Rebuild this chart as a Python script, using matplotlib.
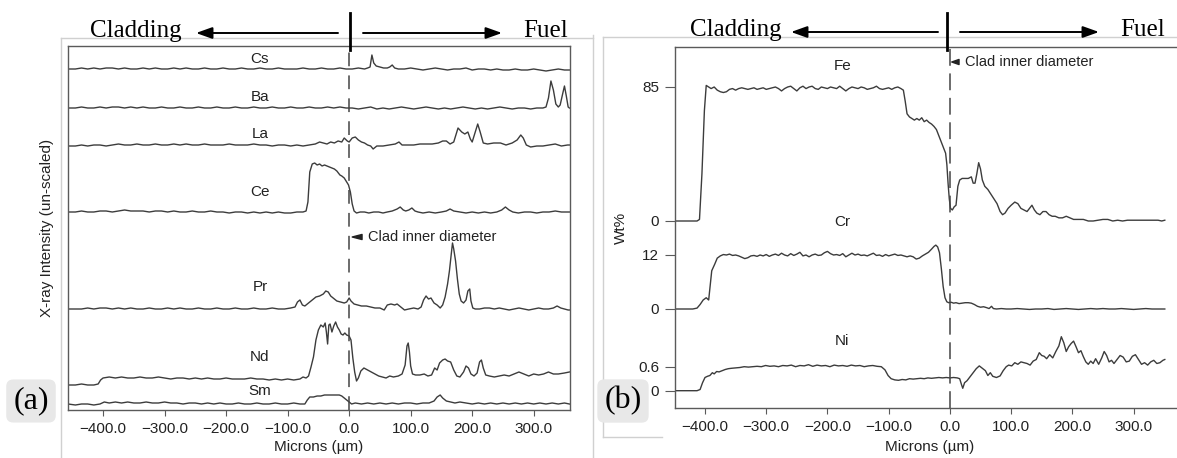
import numpy as np
import matplotlib
matplotlib.use("Agg")
from matplotlib import pyplot as plt
from matplotlib.lines import Line2D

plt.rcParams['font.family'] = ['Liberation Sans', 'DejaVu Sans']

# ---- panel (a): X-ray intensity traces (height above own baseline, arbitrary units) ----
cs = [(-457,0),(-445,0),(-435,1),(-425,0),(-415,1),(-405,0),(-395,1),(-385,1),(-375,0),(-365,1),(-355,0),(-345,0),
      (-335,1),(-325,0),(-315,1),(-305,0),(-295,0),(-285,1),(-275,0),(-265,1),(-255,0),(-245,0),(-235,1),(-225,0),
      (-215,0),(-205,1),(-195,0),(-185,0),(-175,1),(-165,0),(-155,0),(-145,1),(-135,0),(-125,0),(-115,1),(-105,0),
      (-95,0),(-85,0),(-75,1),(-65,0),(-55,0),(-45,1),(-35,0),(-25,0),(-15,1),(-5,0),(5,0),(15,1),(25,0),(30,1),
      (34,2),(37,14),(40,6),(44,3),(50,2),(56,1),(62,1),(66,2),(70,4),(74,1),(80,0),(90,0),(100,1),(110,0),(120,-1),
      (130,0),(140,1),(150,0),(160,-1),(170,0),(180,0),(190,1),(200,-1),(210,0),(220,0),(230,-1),(240,0),(250,-1),
      (260,-1),(270,0),(280,-1),(290,-1),(300,0),(310,-1),(320,-2),(330,-1),(340,0),(350,-1),(358,-1)]
ba = [(-457,0),(-445,0),(-435,1),(-425,0),(-415,0),(-405,1),(-395,0),(-385,1),(-375,1),(-365,0),(-355,1),(-345,0),
      (-335,1),(-325,0),(-315,0),(-305,1),(-295,0),(-285,0),(-275,1),(-265,0),(-255,0),(-245,1),(-235,0),(-225,0),
      (-215,1),(-205,0),(-195,0),(-185,1),(-175,0),(-165,0),(-155,1),(-145,0),(-135,0),(-125,1),(-115,0),(-105,0),
      (-95,1),(-85,0),(-75,0),(-65,1),(-55,0),(-45,0),(-35,1),(-25,0),(-15,1),(-5,0),(5,0),(15,-1),(25,0),(35,1),
      (45,-1),(55,0),(65,-1),(75,0),(85,1),(95,0),(105,-1),(115,0),(125,1),(135,0),(145,-1),(155,0),(165,-1),(175,0),
      (185,1),(195,0),(205,-1),(215,0),(225,-1),(235,0),(245,1),(255,0),(265,-1),(275,0),(285,0),(295,-1),(305,0),
      (315,0),(320,1),(324,10),(328,27),(332,18),(336,4),(340,1),(343,3),(347,14),(350,22),(353,12),(356,1),(358,0)]
la = [(-457,0),(-445,0),(-435,1),(-425,0),(-415,1),(-405,1),(-395,0),(-385,1),(-375,2),(-365,1),(-355,1),(-345,2),
      (-335,1),(-325,1),(-315,2),(-305,1),(-295,1),(-285,2),(-275,1),(-265,2),(-255,1),(-245,1),(-235,2),(-225,1),
      (-215,1),(-205,1),(-195,2),(-185,1),(-175,1),(-165,1),(-155,2),(-145,1),(-135,1),(-125,0),(-115,1),(-105,1),
      (-95,0),(-85,1),(-75,0),(-65,1),(-55,2),(-48,4),(-42,3),(-36,2),(-30,4),(-24,3),(-18,5),(-12,4),(-8,8),(-3,5),
      (0,4),(5,8),(10,9),(15,6),(20,4),(25,3),(30,1),(35,0),(39,-3),(45,0),(55,0),(65,1),(75,2),(81,4),(86,1),(95,1),
      (105,1),(115,2),(125,2),(135,2),(145,3),(152,5),(158,5),(164,2),(170,4),(177,18),(183,14),(188,12),(193,14),
      (197,7),(200,4),(204,12),(209,22),(213,14),(218,3),(225,2),(235,3),(246,3),(255,1),(265,3),(273,6),(279,11),
      (283,8),(288,1),(295,-1),(305,0),(315,0),(325,1),(335,2),(345,0),(355,1),(358,1)]
ce = [(-457,0),(-445,0),(-435,1),(-425,0),(-415,0),(-405,1),(-395,1),(-385,0),(-375,1),(-365,2),(-355,1),(-345,1),
      (-335,1),(-325,0),(-315,1),(-305,1),(-295,0),(-285,1),(-275,0),(-265,0),(-255,1),(-245,0),(-235,0),(-225,1),
      (-215,0),(-205,0),(-195,-1),(-185,0),(-175,0),(-165,-1),(-155,0),(-145,-1),(-135,0),(-125,-1),(-115,0),
      (-105,-1),(-95,-1),(-85,0),(-75,0),(-70,1),(-67,10),(-64,40),(-60,48),(-56,49),(-52,47),(-48,48),(-44,46),
      (-40,47),(-36,46),(-32,45),(-28,44),(-24,43),(-20,41),(-15,37),(-12,36),(-8,34),(-4,30),(-1,27),(2,20),(5,8),
      (8,1),(12,-1),(18,0),(25,0),(32,-1),(40,0),(48,0),(55,-1),(62,0),(70,1),(78,3),(83,5),(88,2),(92,1),(97,2),
      (102,4),(107,1),(112,0),(120,-1),(130,0),(140,-1),(150,0),(158,1),(164,3),(170,1),(180,0),(190,-1),(200,0),
      (210,-1),(220,0),(230,-1),(240,0),(248,2),(254,5),(260,2),(266,0),(275,-1),(285,0),(295,0),(305,-1),(315,0),
      (325,0),(335,1),(345,0),(358,0)]
pr = [(-457,0),(-445,0),(-435,0),(-425,1),(-415,0),(-405,1),(-395,1),(-385,0),(-375,1),(-365,0),(-355,1),(-345,0),
      (-335,0),(-325,1),(-315,0),(-305,0),(-295,1),(-285,0),(-275,1),(-265,0),(-255,0),(-245,1),(-235,0),(-225,0),
      (-215,1),(-205,0),(-195,0),(-185,1),(-175,0),(-165,0),(-155,1),(-145,0),(-135,0),(-125,1),(-115,0),(-105,0),
      (-95,1),(-88,2),(-84,7),(-80,9),(-76,4),(-72,3),(-66,6),(-60,9),(-54,12),(-48,13),(-42,15),(-38,18),(-34,17),
      (-30,13),(-26,11),(-20,8),(-14,7),(-8,6),(-4,7),(0,11),(3,8),(8,5),(14,4),(20,3),(28,3),(35,2),(42,1),(50,1),
      (57,-1),(62,4),(68,5),(74,4),(78,5),(84,2),(90,-1),(97,0),(105,1),(112,0),(117,2),(121,9),(125,13),(129,10),
      (133,11),(138,6),(143,4),(148,1),(152,4),(156,12),(160,25),(163,38),(166,55),(168,66),(170,60),(173,48),
      (176,30),(179,15),(182,8),(186,6),(190,9),(193,18),(196,20),(198,8),(201,1),(205,0),(212,0),(220,1),(228,1),
      (236,0),(244,1),(252,0),(260,-1),(268,0),(276,1),(284,0),(292,-1),(300,0),(308,1),(316,0),(324,0),(332,1),
      (338,3),(344,1),(350,0),(356,-1),(358,-1)]
nd = [(-457,-5),(-445,-5),(-435,-4),(-425,-5),(-415,-5),(-408,-4),(-404,0),(-400,2),(-390,3),(-380,2),(-370,3),
      (-360,2),(-350,2),(-340,3),(-330,2),(-320,2),(-310,3),(-300,2),(-290,1),(-280,2),(-270,2),(-260,1),(-250,2),
      (-240,1),(-230,2),(-220,1),(-210,1),(-200,2),(-190,1),(-180,1),(-170,1),(-160,2),(-150,1),(-140,1),(-130,0),
      (-120,1),(-110,0),(-100,1),(-90,0),(-80,1),(-75,3),(-70,2),(-66,4),(-62,13),(-58,23),(-54,40),(-50,50),
      (-46,55),(-42,53),(-39,57),(-37,48),(-35,36),(-33,55),(-31,56),(-28,48),(-25,54),(-22,58),(-19,53),(-16,50),
      (-13,46),(-10,45),(-7,47),(-4,45),(0,44),(3,40),(6,22),(9,8),(12,-1),(15,2),(19,9),(24,12),(30,10),(36,8),
      (42,6),(48,4),(54,3),(60,2),(66,4),(72,3),(80,4),(86,6),(91,15),(94,34),(96,37),(98,28),(100,14),(103,6),
      (108,5),(115,5),(122,6),(128,4),(134,5),(139,12),(143,10),(147,17),(152,20),(156,21),(160,19),(165,18),
      (170,10),(175,4),(180,3),(186,8),(190,14),(194,12),(198,6),(203,4),(208,7),(212,18),(215,20),(218,12),
      (222,5),(228,4),(236,3),(244,4),(252,5),(260,4),(268,6),(276,8),(284,6),(292,4),(300,6),(308,5),(316,6),
      (324,8),(332,6),(340,6),(350,7),(358,8)]
sm = [(-457,0),(-445,-1),(-435,0),(-425,0),(-415,-1),(-405,0),(-398,2),(-390,1),(-380,2),(-370,1),(-360,2),
      (-350,1),(-340,1),(-330,2),(-320,1),(-310,1),(-300,2),(-290,1),(-280,1),(-270,0),(-260,1),(-250,1),(-240,0),
      (-230,1),(-220,0),(-210,1),(-200,0),(-190,0),(-180,1),(-170,0),(-160,0),(-150,1),(-140,0),(-130,0),(-120,1),
      (-110,0),(-100,0),(-90,1),(-80,0),(-72,0),(-68,4),(-64,7),(-58,7),(-52,8),(-46,8),(-40,9),(-34,9),(-28,9),
      (-22,9),(-16,9),(-12,8),(-8,6),(-4,4),(0,2),(4,0),(10,1),(20,0),(30,1),(40,0),(50,1),(60,0),(70,1),(80,0),
      (90,1),(100,1),(110,0),(120,1),(130,1),(138,3),(143,7),(148,9),(152,6),(158,3),(165,2),(172,1),(180,2),
      (190,1),(200,0),(210,1),(220,0),(230,1),(240,0),(250,1),(260,0),(270,1),(280,0),(290,1),(300,0),(310,1),
      (320,0),(330,1),(340,0),(350,1),(358,0)]
a_names = ['Cs', 'Ba', 'La', 'Ce', 'Pr', 'Nd', 'Sm']
a_traces = [cs, ba, la, ce, pr, nd, sm]

# ---- panel (b): wt% traces ----
fe = [(-449,0),(-440,0),(-430,0),(-420,0),(-413,0),(-409,1),(-405,30),(-401,70),(-398,86),(-394,85),(-390,84),
      (-385,85),(-380,83),(-375,82),(-370,81.5),(-365,82),(-360,83.5),(-355,84),(-350,83),(-345,84),(-340,84.5),
      (-335,84),(-330,83.5),(-325,84),(-320,84.5),(-315,83.5),(-310,84),(-305,84.5),(-300,83.5),(-295,84),
      (-290,84.5),(-285,85),(-280,84),(-275,82.5),(-270,84),(-265,85),(-260,85.5),(-255,84),(-250,82.5),(-245,84.5),
      (-240,85.5),(-235,84),(-230,85),(-225,85.5),(-220,84),(-215,83.5),(-210,85),(-205,84.5),(-200,84),(-195,85),
      (-190,84.5),(-185,84),(-180,85.5),(-175,84),(-170,82.5),(-165,84),(-160,85),(-155,84.5),(-150,84),(-145,85),
      (-140,84.5),(-135,83.5),(-130,84),(-125,84.5),(-120,85.5),(-115,84),(-110,83.5),(-105,84),(-100,84.5),
      (-95,83.5),(-90,84.5),(-85,85),(-80,84),(-76,83),(-73,76),(-70,68),(-66,66),(-62,65),(-58,64),(-54,65),
      (-50,64),(-46,65.5),(-42,63),(-38,64),(-34,62.5),(-30,61.5),(-26,60),(-22,58),(-18,54),(-14,50),(-10,46),
      (-7,43),(-5,36),(-3,24),(-1,14),(1,8),(4,7),(7,9),(10,10),(13,22),(16,26),(20,27),(25,27),(30,27),(35,28),
      (38,24),(41,24),(44,30),(47,37),(50,33),(53,26),(57,22),(62,20),(67,17),(72,14),(77,11),(82,6),(86,4),(90,5),
      (95,8),(100,10),(106,12),(111,11),(116,8),(121,7),(126,6),(130,8),(134,10),(138,7),(142,5),(147,4),(152,6),
      (157,6),(162,4),(167,3),(172,3),(178,2),(184,2),(190,3),(196,2),(202,1),(210,1),(218,1),(226,0),(234,0),
      (242,0.5),(250,1),(258,1),(266,0),(274,0.5),(282,0),(290,0.5),(298,0.5),(306,0.5),(314,0.5),(322,0.5),
      (330,0.5),(340,0.5),(346,0),(351,0.5)]
cr = [(-449,0),(-440,0),(-430,0),(-420,0),(-413,0.2),(-408,1),(-403,2),(-398,2.5),(-394,2),(-391,6),(-389,8.5),
      (-384,10),(-380,11.3),(-375,11.8),(-370,12.1),(-365,12),(-360,12.2),(-355,11.9),(-350,12),(-345,11.8),
      (-340,11.5),(-335,11.2),(-330,11.4),(-325,11.8),(-320,11.9),(-315,11.7),(-310,12),(-305,11.8),(-300,12.1),
      (-295,11.7),(-290,12),(-285,12.2),(-280,11.9),(-275,12.4),(-270,12),(-265,11.8),(-260,12.3),(-255,11.9),
      (-250,12.2),(-245,12.6),(-240,11.8),(-235,12),(-230,11.6),(-225,12),(-220,12.2),(-215,11.9),(-210,12),
      (-205,12.5),(-200,12.8),(-195,12.3),(-190,12),(-185,12.1),(-180,11.9),(-175,12.3),(-170,11.6),(-165,12),
      (-160,12.4),(-155,12),(-150,12.2),(-145,11.9),(-140,12),(-135,11.8),(-130,12.1),(-125,12.4),(-120,11.9),
      (-115,12),(-110,11.7),(-105,12.1),(-100,11.8),(-95,12),(-90,12.2),(-85,11.9),(-80,12),(-75,11.8),(-70,11.6),
      (-65,11.8),(-60,11.6),(-55,11.1),(-50,11.3),(-45,11.8),(-40,12.2),(-35,12.6),(-30,13.3),(-26,13.9),
      (-23,14.2),(-20,13.8),(-17,12.5),(-14,9),(-11,5),(-8,2.5),(-5,1.6),(-2,1.4),(2,1.5),(6,1.3),(10,1.4),
      (15,1.2),(20,1.3),(25,1.4),(30,1.4),(35,1.3),(40,1.0),(45,0.6),(50,0.4),(55,0.5),(60,0.3),(64,0.1),(68,0.6),
      (71,0.1),(76,0),(84,0.1),(92,0),(100,0),(110,0.1),(120,0),(130,-0.1),(140,0),(150,0),(160,0.1),(170,-0.1),
      (180,0),(190,0.1),(200,0),(210,-0.1),(220,0),(230,0.1),(240,0),(250,0.1),(260,0),(270,0),(280,0.1),(290,0),
      (300,-0.1),(310,0),(320,0.1),(330,0),(340,0),(351,0)]
ni = [(-449,0),(-440,0),(-430,0),(-420,0),(-413,0),(-408,0.03),(-404,0.2),(-400,0.33),(-396,0.36),(-392,0.38),
      (-388,0.45),(-385,0.42),(-381,0.48),(-377,0.47),(-372,0.5),(-367,0.53),(-362,0.55),(-357,0.56),(-350,0.57),
      (-343,0.58),(-336,0.6),(-329,0.59),(-322,0.6),(-315,0.61),(-308,0.6),(-301,0.63),(-294,0.61),(-287,0.62),
      (-280,0.6),(-273,0.63),(-266,0.62),(-259,0.64),(-252,0.6),(-245,0.63),(-238,0.62),(-231,0.65),(-224,0.61),
      (-217,0.64),(-210,0.62),(-203,0.63),(-196,0.6),(-189,0.64),(-182,0.62),(-175,0.63),(-168,0.61),(-161,0.64),
      (-154,0.62),(-147,0.63),(-140,0.6),(-133,0.62),(-126,0.63),(-119,0.61),(-112,0.6),(-106,0.52),(-101,0.38),
      (-96,0.3),(-90,0.27),(-84,0.26),(-78,0.28),(-72,0.27),(-66,0.3),(-60,0.29),(-54,0.3),(-48,0.31),(-42,0.3),
      (-36,0.32),(-30,0.31),(-24,0.32),(-18,0.33),(-12,0.32),(-6,0.33),(0,0.32),(6,0.33),(12,0.32),(16,0.3),
      (19,0.15),(21,0.06),(24,0.2),(28,0.25),(33,0.35),(38,0.45),(43,0.55),(48,0.62),(53,0.56),(58,0.5),(62,0.38),
      (66,0.45),(70,0.36),(76,0.33),(82,0.37),(87,0.5),(92,0.6),(96,0.64),(101,0.62),(106,0.7),(111,0.66),
      (116,0.72),(121,0.7),(126,0.68),(131,0.64),(136,0.74),(141,0.78),(146,0.95),(150,0.88),(154,0.86),(158,0.8),
      (163,0.9),(168,0.82),(173,0.98),(178,1.12),(182,1.35),(186,1.2),(190,0.98),(194,1.1),(198,1.18),(202,1.24),
      (206,1.1),(210,0.95),(214,1.0),(218,0.85),(222,0.72),(226,0.66),(230,0.74),(234,0.68),(238,0.8),(243,0.66),
      (248,0.82),(252,0.98),(256,0.88),(260,0.72),(264,0.76),(268,0.68),(273,0.78),(278,0.88),(283,0.84),
      (288,0.72),(293,0.74),(298,0.86),(303,0.9),(308,0.78),(313,0.66),(318,0.7),(323,0.64),(328,0.72),(333,0.76),
      (338,0.68),(343,0.7),(348,0.76),(351,0.78)]
b_names = ['Fe', 'Cr', 'Ni']
b_traces = [fe, cr, ni]
b_ticks = [85, 0, 12, 0, 0.6, 0]
x_ticks = [-400, -300, -200, -100, 0, 100, 200, 300]

# layout (pixel-ish axis units)
W, H = 1177, 458
a_base = [341, 302, 264, 198, 101, 30, 6]
a_lab_y = [351, 313, 276, 218, 123, 53, 19]
b_zero = [187, 99, 17.3]
b_scale = [134 / 85, 54 / 12, 24 / 0.6]
b_lab_y = [342, 186, 67]

line_c = '#3c3c3c'
spine_c = '#5a5a5a'

fig = plt.figure(figsize=(W / 100, H / 100), dpi=100)
ax_a = fig.add_axes([68 / W, 1 - 410 / H, 502 / W, 364 / H])
ax_b = fig.add_axes([675 / W, 1 - 408 / H, 510 / W, 361 / H])

xt_labels = [f"{v:.1f}".replace('-', '\u2212') for v in x_ticks]

# panel a
for name, pts, base, ly in zip(a_names, a_traces, a_base, a_lab_y):
    x, y = zip(*pts)
    ax_a.plot(x, base + np.array(y), color=line_c, lw=1.0)
    ax_a.text(-145, ly, name, ha='center', va='center', fontsize=11, color='#222')
ax_a.axvline(0, color='#444', lw=1.1, dashes=(9, 6))
ax_a.set_xlim(-457, 359)
ax_a.set_ylim(0, 364)
ax_a.set_yticks([])
ax_a.set_xticks(x_ticks)
ax_a.set_xticklabels(xt_labels)
ax_a.tick_params(axis='x', length=4, width=0.8, color=spine_c, labelsize=11, pad=4.5, labelcolor='#222')
ax_a.set_xlabel('Microns (\u00b5m)', fontsize=11, color='#222')
ax_a.xaxis.set_label_coords(0.5, -0.082)
ax_a.set_ylabel('X-ray Intensity (un-scaled)', fontsize=11, color='#222')
ax_a.yaxis.set_label_coords(-0.028, 0.5)
for s in ax_a.spines.values():
    s.set_color(spine_c)
    s.set_linewidth(1.0)
ax_a.annotate('Clad inner diameter', xy=(5, 173), xytext=(30, 173), fontsize=10.5, va='center', color='#222',
              arrowprops=dict(arrowstyle='wedge,tail_width=0.35', fc='#222', ec='#222', shrinkA=2, shrinkB=0))

# panel b
for name, pts, z, sc, ly in zip(b_names, b_traces, b_zero, b_scale, b_lab_y):
    x, y = zip(*pts)
    ax_b.plot(x, z + sc * np.array(y), color=line_c, lw=1.0)
    ax_b.text(-176, ly, name, ha='center', va='center', fontsize=11, color='#222')
ax_b.axvline(0, color='#444', lw=1.1, dashes=(11, 5))
ax_b.set_xlim(-449, 384)
ax_b.set_ylim(0, 361)
tick_pos = [b_zero[0] + 85 * b_scale[0], b_zero[0], b_zero[1] + 12 * b_scale[1], b_zero[1],
            b_zero[2] + 0.6 * b_scale[2], b_zero[2]]
ax_b.set_yticks(tick_pos)
ax_b.set_yticklabels([str(v) for v in b_ticks])
ax_b.set_xticks(x_ticks)
ax_b.set_xticklabels(xt_labels)
ax_b.tick_params(axis='y', length=7.5, width=0.8, color=spine_c, labelsize=11, pad=4, labelcolor='#222')
ax_b.tick_params(axis='x', length=4, width=0.8, color=spine_c, labelsize=11, pad=4.5, labelcolor='#222')
ax_b.set_xlabel('Microns (\u00b5m)', fontsize=11, color='#222')
ax_b.xaxis.set_label_coords(0.5, -0.089)
ax_b.set_ylabel('Wt%', fontsize=11, color='#222')
ax_b.yaxis.set_label_coords(-0.092, 0.5)
for s in ax_b.spines.values():
    s.set_color(spine_c)
    s.set_linewidth(1.0)
ax_b.annotate('Clad inner diameter', xy=(3, 346), xytext=(24, 346), fontsize=10.5, va='center', color='#222',
              arrowprops=dict(arrowstyle='wedge,tail_width=0.35', fc='#222', ec='#222', shrinkA=2, shrinkB=0))

# light frame lines around panels
frame = [([61, 61], [38, 458]), ([61, 593], [38, 38]), ([593, 593], [35, 458]),
         ([603, 603], [37, 437]), ([603, 1177], [37, 37]), ([603, 662], [437, 437])]
for xs, ys in frame:
    fig.add_artist(Line2D([v / W for v in xs], [1 - v / H for v in ys], transform=fig.transFigure,
                          color='#d0d0d0', lw=1))

# header: Cladding <-- | --> Fuel
headers = [dict(clad=90, fuel=568, la=(338, 196), bar=350, ra=(363, 502), y=31),
           dict(clad=690, fuel=1165, la=(938, 791), bar=947, ra=(960, 1099), y=30)]
for h in headers:
    fig.text(h['clad'] / W, 1 - h['y'] / H, 'Cladding', family='Liberation Serif', fontsize=18,
             ha='left', va='center')
    fig.text(h['fuel'] / W, 1 - h['y'] / H, 'Fuel', family='Liberation Serif', fontsize=18,
             ha='right', va='center')
    for x0, x1 in (h['la'], h['ra']):
        fig.add_artist(plt.Annotation('', xy=(x1, H - h['y'] - 2), xytext=(x0, H - h['y'] - 2),
                                      xycoords='figure pixels', textcoords='figure pixels',
                                      arrowprops=dict(arrowstyle='-|>,head_length=0.7,head_width=0.25',
                                                      color='black', lw=1.4, mutation_scale=14,
                                                      shrinkA=0, shrinkB=0)))
    fig.add_artist(Line2D([h['bar'] / W] * 2, [1 - 13 / H, 1 - 50 / H], transform=fig.transFigure,
                          color='black', lw=2))

# panel tags
for tag, cx in (('(a)', 31), ('(b)', 623)):
    fig.text(cx / W, 1 - 401 / H, tag, family='Liberation Serif', fontsize=23, ha='center', va='center',
             bbox=dict(boxstyle='round,pad=0.22', fc='#e8e8e8', ec='none'))

fig.savefig('out.png', dpi=100)
